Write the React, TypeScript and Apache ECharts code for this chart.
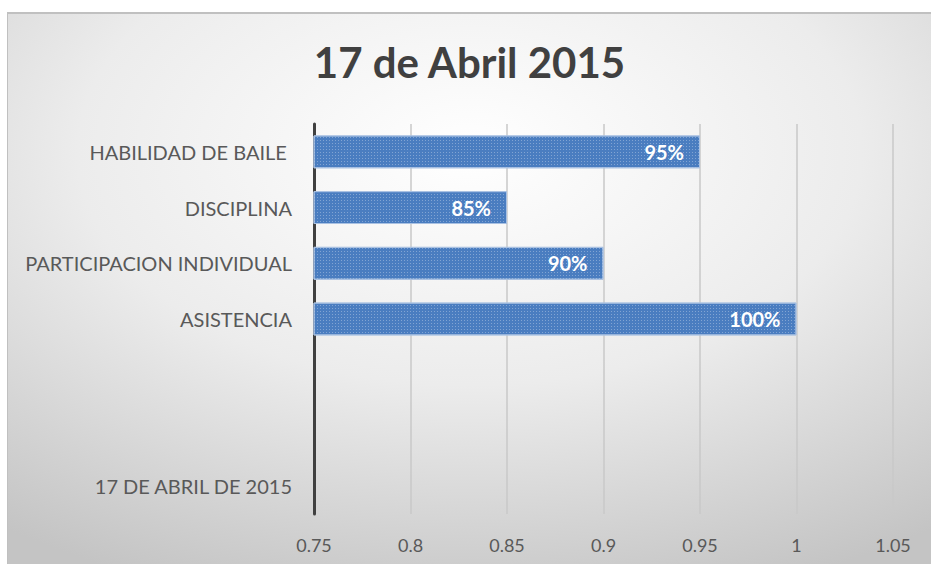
import React, { useEffect, useRef } from "react";
import * as echarts from "echarts";

const categories = [
  "HABILIDAD DE BAILE ",
  "DISCIPLINA",
  "PARTICIPACION INDIVIDUAL",
  "ASISTENCIA",
  "",
  "",
  "17 DE ABRIL DE 2015",
];
const values: (number | null)[] = [0.95, 0.85, 0.9, 1, null, null, null];
const titleText = "17 de Abril 2015";
const xMin = 0.75;
const xMax = 1.05;
const xInterval = 0.05;

export default function App() {
  const ref = useRef<HTMLDivElement>(null);
  useEffect(() => {
    if (!ref.current) return;
    const chart = echarts.init(ref.current, undefined, { renderer: "svg" });
    const font = "Lato, 'Open Sans', sans-serif";
    chart.setOption({
      animation: false,
      backgroundColor: {
        type: "radial",
        x: 0.5,
        y: 0.25,
        r: 0.85,
        colorStops: [
          { offset: 0, color: "#ffffff" },
          { offset: 0.5, color: "#ececec" },
          { offset: 1, color: "#c4c4c4" },
        ],
      },
      title: {
        text: titleText,
        left: "center",
        top: 22,
        textStyle: {
          fontFamily: font,
          fontSize: 42,
          fontWeight: "bold",
          color: "#404040",
        },
      },
      grid: { left: 306, right: 38, top: 110, bottom: 50 },
      xAxis: {
        type: "value",
        min: xMin,
        max: xMax,
        interval: xInterval,
        axisLine: { show: false },
        axisTick: { show: false },
        axisLabel: {
          color: "#595959",
          fontFamily: font,
          fontSize: 18,
          margin: 22,
          formatter: (v: number) => String(Math.round(v * 100) / 100),
        },
        splitLine: { show: true, lineStyle: { color: "#c8c8c8", width: 1.5 } },
      },
      yAxis: {
        type: "category",
        data: categories,
        inverse: true,
        axisLine: { show: true, lineStyle: { color: "#404040", width: 3 } },
        axisTick: { show: false },
        axisLabel: {
          color: "#595959",
          fontFamily: font,
          fontSize: 20,
          margin: 22,
        },
      },
      series: [
        {
          type: "bar",
          data: values,
          barWidth: "59%",
          itemStyle: {
            color: "#4a7dc0",
            borderColor: "#a9c1e2",
            borderWidth: 1,
            decal: {
              symbol: "rect",
              symbolSize: 1,
              dashArrayX: [1, 2],
              dashArrayY: [1, 2],
              color: "rgba(255,255,255,0.3)",
              rotation: 0,
            },
          },
          label: {
            show: true,
            position: "insideRight",
            distance: 16,
            color: "#ffffff",
            fontFamily: font,
            fontSize: 20,
            fontWeight: "bold",
            formatter: (p: any) =>
              p.value == null ? "" : Math.round(p.value * 100) + "%",
          },
        },
      ],
    });
    return () => chart.dispose();
  }, []);
  return (
    <div
      ref={ref}
      style={{
        position: "absolute",
        left: 7,
        top: 12,
        width: 924,
        height: 552,
        borderTop: "2px solid #c0c0c0",
        borderLeft: "1px solid #c0c0c0",
        boxSizing: "border-box",
      }}
    />
  );
}
